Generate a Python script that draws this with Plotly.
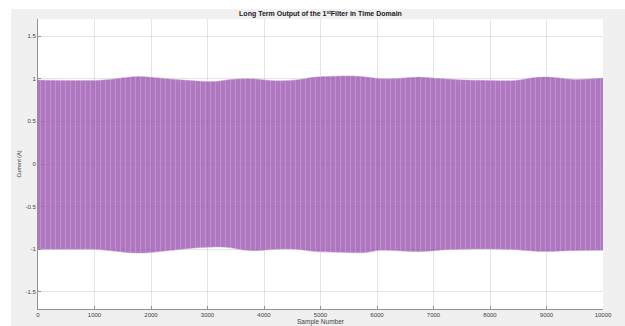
import plotly.graph_objects as go

# Envelope of the dense oscillation (sample number, current in A)
upper_x = [0, 500, 1000, 1300, 1750, 2050, 2450, 2950, 3150, 3400, 3650, 3850, 4200,
           4600, 4900, 5100, 5600, 6100, 6400, 6750, 7050, 7450, 8000, 8450, 8800,
           9050, 9500, 10000]
upper_y = [0.985, 0.98, 0.98, 0.995, 1.027, 1.015, 0.99, 0.968, 0.968, 0.99, 1.0, 0.998,
           0.976, 0.988, 1.019, 1.027, 1.031, 1.0, 1.004, 1.019, 1.004, 0.988, 0.98,
           0.98, 1.015, 1.019, 0.992, 1.008]
lower_x = [0, 550, 1000, 1325, 1700, 1950, 2370, 2720, 3130, 3380, 3630, 3860, 4210,
           4560, 4910, 5270, 5800, 6035, 6440, 6800, 7150, 7500, 8030, 8450, 8750,
           9000, 9400, 10000]
lower_y = [-1.0, -1.0, -1.0, -1.02, -1.043, -1.04, -1.012, -0.988, -0.973, -0.98, -1.008,
           -1.016, -1.0, -1.0, -1.027, -1.035, -1.039, -1.012, -1.02, -1.027, -1.008,
           -1.0, -0.996, -1.004, -1.02, -1.027, -1.016, -1.012]

x_ticks = [0, 1000, 2000, 3000, 4000, 5000, 6000, 7000, 8000, 9000, 10000]
x_ticklabels = ["0", "1000", "2000", "3000", "4000", "5000", "6000", "7000", "8000",
                "9000", "10000"]
y_ticks = [-1.5, -1, -0.5, 0, 0.5, 1, 1.5]
y_ticklabels = ["-1.5", "-1", "-0.5", "0", "0.5", "1", "1.5"]

title_text = "<b>Long Term Output of the 1<sup>st</sup>Filter in Time Domain</b>"

fig = go.Figure()
fig.add_trace(go.Scatter(x=lower_x, y=lower_y, mode="lines",
                         line=dict(width=0.6, shape="spline", color="rgba(200,160,215,0.8)"),
                         showlegend=False, hoverinfo="skip"))
fig.add_trace(go.Scatter(
    x=upper_x, y=upper_y, mode="lines", fill="tonexty",
    line=dict(width=0.6, shape="spline", color="rgba(200,160,215,0.8)"),
    fillcolor="rgba(150,78,172,0.76)",
    fillpattern=dict(shape="|", fgcolor="rgba(235,210,240,0.55)", size=5, solidity=0.2,
                     fillmode="overlay"),
    showlegend=False, hoverinfo="skip"))

axis_font = dict(family="Liberation Sans, Arial, sans-serif", size=6, color="#404040")

fig.update_layout(
    width=625, height=326,
    margin=dict(l=38, r=22, t=19, b=17, autoexpand=False),
    paper_bgcolor="#f0f0f0",
    plot_bgcolor="white",
    title=dict(text=title_text, x=0.5, xref="paper", xanchor="center",
               y=1 - 14 / 326, yref="container", yanchor="middle",
               font=dict(family="Liberation Sans, Arial, sans-serif", size=7, color="#1a1a1a")),
    xaxis=dict(range=[0, 10000], tickvals=x_ticks, ticktext=x_ticklabels, ticks="inside",
               ticklen=3, tickcolor="#909090", showline=True, linecolor="#909090",
               linewidth=1, showgrid=True, gridcolor="rgba(0,0,0,0.1)", gridwidth=1,
               zeroline=False, tickfont=axis_font, automargin=False,
               title=dict(text="Sample Number", standoff=1,
                          font=dict(family="Liberation Sans, Arial, sans-serif", size=6.5,
                                    color="#404040"))),
    yaxis=dict(range=[-1.7, 1.7], tickvals=y_ticks, ticktext=y_ticklabels, ticks="inside",
               ticklen=3, tickcolor="#909090", showline=True, linecolor="#909090",
               linewidth=1, showgrid=True, gridcolor="rgba(0,0,0,0.1)", gridwidth=1,
               zeroline=False, tickfont=axis_font, automargin=False,
               title=dict(text="Current (A)", standoff=3,
                          font=dict(family="Liberation Sans, Arial, sans-serif", size=5.5,
                                    color="#404040"))),
    shapes=[
        dict(type="rect", xref="paper", yref="paper", x0=-0.2, x1=1.2,
             y0=(309 - 9) / 290, y1=1.2, fillcolor="white", line=dict(width=0), layer="above"),
        dict(type="rect", xref="paper", yref="paper", x0=-0.2, x1=(11 - 38) / 565,
             y0=-0.2, y1=1.2, fillcolor="white", line=dict(width=0), layer="above"),
    ],
)

fig.write_html("out.html")
